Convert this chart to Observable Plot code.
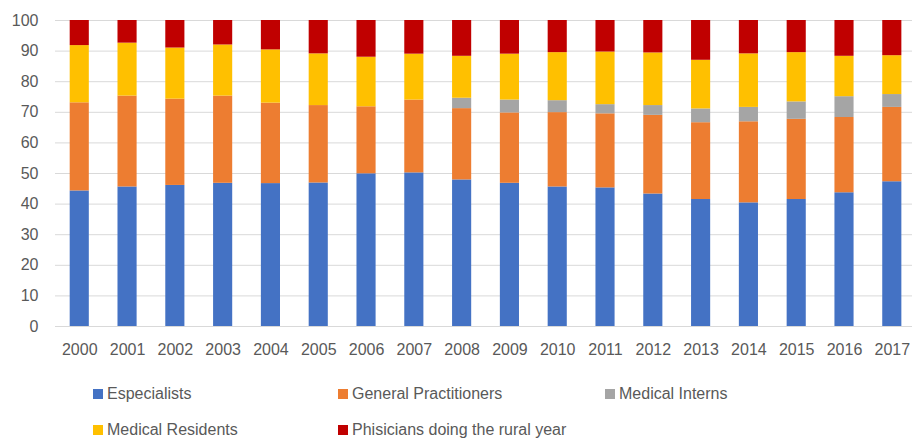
<!DOCTYPE html>
<html>
<head>
<meta charset="utf-8">
<script src="https://cdn.jsdelivr.net/npm/d3@7"></script>
<script src="https://cdn.jsdelivr.net/npm/@observablehq/plot@0.6"></script>
<style>
  body { margin: 0; background: #fff; font-family: "Liberation Sans", Arial, sans-serif; }
  #wrap { position: relative; width: 912px; height: 438px; }
  .leg { position: absolute; font-size: 16px; color: #595959; white-space: nowrap; line-height: 20px; }
  .leg .sw { display: inline-block; width: 10px; height: 10px; margin-right: 4px; vertical-align: 0px; }
</style>
</head>
<body>
<div id="wrap"><div id="chart"></div></div>
<script>
const years = ["2000","2001","2002","2003","2004","2005","2006","2007","2008","2009","2010","2011","2012","2013","2014","2015","2016","2017"];
const seriesNames = ["Especialists","General Practitioners","Medical Interns","Medical Residents","Phisicians doing the rural year"];
const seriesColors = ["#4472C4","#ED7D31","#A5A5A5","#FFC000","#C00000"];
const especialists = [44.3,45.6,46.1,46.8,46.7,46.9,49.9,50.2,47.9,46.8,45.6,45.3,43.3,41.5,40.4,41.5,43.7,47.3];
const generalPractitioners = [28.8,29.7,28.2,28.5,26.3,25.3,21.9,23.8,23.3,23.0,24.3,24.2,25.7,25.1,26.5,26.2,24.6,24.3];
const medicalInterns = [0,0,0,0,0,0,0,0,3.4,4.2,3.9,3.0,3.2,4.5,4.7,5.7,6.8,4.2];
const medicalResidents = [18.7,17.3,16.7,16.7,17.4,16.9,16.2,15.0,13.7,15.0,15.7,17.2,17.2,15.9,17.5,16.1,13.2,12.7];
const ruralYear = [8.2,7.4,9.0,8.0,9.6,10.9,12.0,11.0,11.7,11.0,10.5,10.3,10.6,13.0,10.9,10.5,11.7,11.5];
const yTicks = [0,10,20,30,40,50,60,70,80,90,100];

const seriesValues = [especialists, generalPractitioners, medicalInterns, medicalResidents, ruralYear];
const data = [];
years.forEach((yr, i) => {
  seriesNames.forEach((s, j) => data.push({year: yr, series: s, value: seriesValues[j][i]}));
});

const chart = Plot.plot({
  width: 912,
  height: 370,
  marginLeft: 55,
  marginRight: 0,
  marginTop: 20,
  marginBottom: 44,
  style: {fontFamily: "Liberation Sans, Arial, sans-serif", fontSize: "16px", color: "#595959", background: "#fff"},
  x: {domain: years, paddingInner: 0.6, paddingOuter: 0.265, align: 0.58, round: false, label: null},
  y: {domain: [0, 100], label: null},
  color: {domain: seriesNames, range: seriesColors},
  marks: [
    Plot.ruleY(yTicks, {stroke: "#D9D9D9", strokeWidth: 1}),
    Plot.barY(data, {x: "year", y: "value", fill: "series", order: seriesNames}),
    Plot.axisY(yTicks, {tickSize: 0, tickPadding: 17, fontSize: 16, fill: "#595959", label: null}),
    Plot.axisX({tickSize: 0, tickPadding: 17, fontSize: 16, fill: "#595959", label: null})
  ]
});
document.getElementById("chart").appendChild(chart);

const legendPos = [[93,384],[338,384],[605,384],[93,420],[338,420]];
const wrap = document.getElementById("wrap");
seriesNames.forEach((s, j) => {
  const d = document.createElement("div");
  d.className = "leg";
  d.style.left = legendPos[j][0] + "px";
  d.style.top = legendPos[j][1] + "px";
  d.innerHTML = `<span class="sw" style="background:${seriesColors[j]}"></span>${s}`;
  wrap.appendChild(d);
});
</script>
</body>
</html>
